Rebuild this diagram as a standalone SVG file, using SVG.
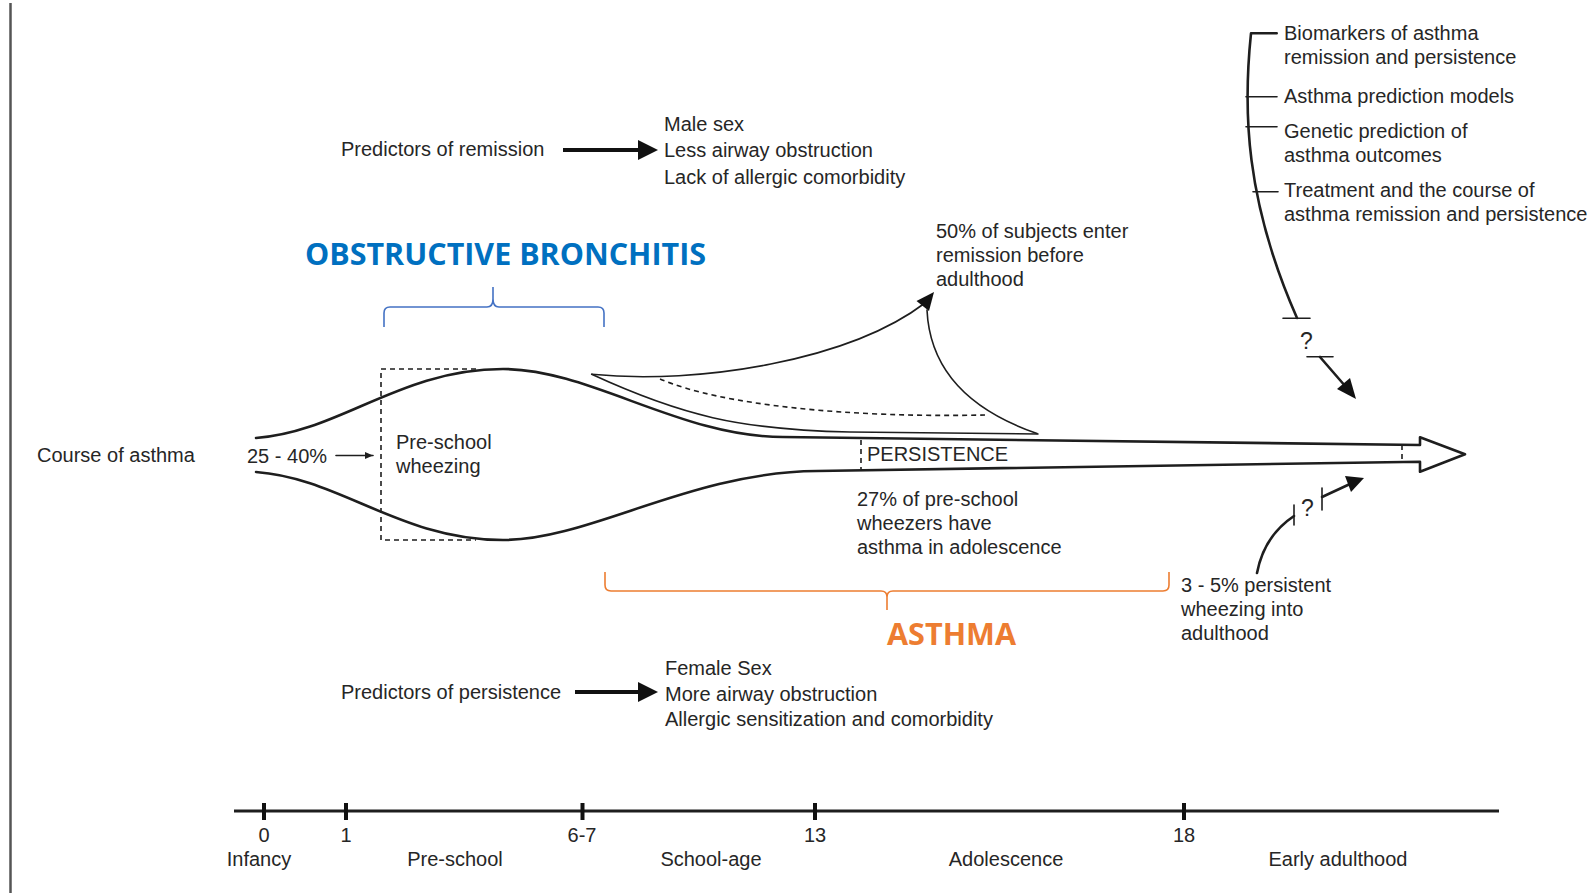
<svg xmlns="http://www.w3.org/2000/svg" width="1596" height="893" viewBox="0 0 1596 893">
<style>
  text { font-family: "Liberation Sans", Arial, sans-serif; font-size: 20px; fill: #262626; }
  .head { font-family: "Open Sans", "Liberation Sans", sans-serif; font-weight: bold; font-size: 30px; }
  .q { font-size: 23px; }
  .blue { fill: #0070C0; }
  .orange { fill: #ED7D31; }
  .thick { fill: none; stroke: #1e1e1e; stroke-width: 2.6; stroke-linecap: round; stroke-linejoin: round; }
  .thin { fill: none; stroke: #1e1e1e; stroke-width: 1.6; stroke-linecap: round; }
  .dash { fill: none; stroke: #1e1e1e; stroke-width: 1.6; stroke-dasharray: 5 4; }
  .bold { fill: none; stroke: #111; stroke-width: 4; }
  .head-fill { fill: #111; stroke: none; }
  .mid { text-anchor: middle; }
</style>
<defs>
  <marker id="smallArrow" markerWidth="10" markerHeight="10" refX="8" refY="5" orient="auto" markerUnits="userSpaceOnUse">
    <path d="M0,1.5 L8,5 L0,8.5 Z" fill="#1e1e1e"/>
  </marker>
</defs>

<rect x="0" y="0" width="1596" height="893" fill="#ffffff"/>

<!-- left frame line -->
<line x1="10.5" y1="3" x2="10.5" y2="893" stroke="#555" stroke-width="2.5"/>

<g id="connectors">
  <!-- predictors arrows -->
  <line class="bold" x1="563" y1="150" x2="641" y2="150"/>
  <polygon class="head-fill" points="638,140 658,150 638,160"/>
  <line class="bold" x1="575" y1="692" x2="641" y2="692"/>
  <polygon class="head-fill" points="638,682 658,692 638,702"/>
  <!-- 25-40% arrow -->
  <line class="thin" x1="336" y1="455.5" x2="373" y2="455.5" marker-end="url(#smallArrow)"/>
  <!-- remission arrows -->
  <path class="thin" d="M591.7,374.3 C700,385 850,360 925,303"/>
  <path class="thin" d="M1037,433.5 C975,412 930,374 927,310"/>
  <polygon class="head-fill" points="934,292 916.5,301 929,311"/>
  <path class="dash" d="M660,379 C720,405 850,418 985,415"/>
  <path class="thin" d="M591.7,374.3 C680,415 740,430 850,432 L1038,434"/>
  <!-- top-right bracket -->
  <path class="thick" d="M1276.7,33.3 L1251,33.3 C1243,110 1245,200 1297,318"/>
  <line class="thin" x1="1246" y1="96.7" x2="1277" y2="96.7"/>
  <line class="thin" x1="1246" y1="126.7" x2="1277" y2="126.7"/>
  <line class="thin" x1="1253" y1="191.7" x2="1278" y2="191.7"/>
  <line class="thin" x1="1283" y1="318.3" x2="1310" y2="318.3"/>
  <line class="thin" x1="1307" y1="356.7" x2="1333" y2="356.7"/>
  <line class="thick" x1="1320" y1="357" x2="1346" y2="387"/>
  <polygon class="head-fill" points="1356,399 1337,389 1350,378"/>
  <!-- 3-5% arrow -->
  <path class="thick" d="M1257,573 Q1264,536 1294,516"/>
  <line class="thin" x1="1294" y1="505" x2="1294" y2="525"/>
  <line class="thin" x1="1322" y1="488" x2="1322" y2="510"/>
  <line class="thick" x1="1322" y1="497" x2="1350" y2="484"/>
  <polygon class="head-fill" points="1364,478 1345,476 1351,492"/>
</g>

<g id="course">
  <!-- lens / course of asthma arrow -->
  <path class="thick" d="M256,438 C340,432 400,369 503,369 C590,369 680,437 783,437 L1420,445 L1420,437.3 L1465,454.3 L1420,471.7 L1420,461.7 L817,471 C690,472 590,540 503,540 C400,540 340,478 256,472" />
  <path class="dash" d="M476,369 L381,369 L381,540 L476,540"/>
  <line class="dash" x1="861" y1="440" x2="861" y2="469"/>
  <line class="dash" x1="1402" y1="445" x2="1402" y2="461.5" stroke-dasharray="3 3"/>
  <text x="37" y="462">Course of asthma</text>
  <text x="247" y="463">25 - 40%</text>
  <text x="396" y="449">Pre-school</text>
  <text x="396" y="473">wheezing</text>
  <text x="867" y="461">PERSISTENCE</text>
</g>

<g id="remission-predictors">
  <text x="341" y="156">Predictors of remission</text>
  <text x="664" y="131">Male sex</text>
  <text x="664" y="157">Less airway obstruction</text>
  <text x="664" y="184">Lack of allergic comorbidity</text>
</g>

<g id="persistence-predictors">
  <text x="341" y="699">Predictors of persistence</text>
  <text x="665" y="675">Female Sex</text>
  <text x="665" y="700.5">More airway obstruction</text>
  <text x="665" y="726">Allergic sensitization and comorbidity</text>
</g>

<g id="obstructive-bronchitis">
  <text class="head blue" x="305" y="265" textLength="401" lengthAdjust="spacingAndGlyphs">OBSTRUCTIVE BRONCHITIS</text>
  <path d="M384,327 L384,313 Q384,307 390,307 L487,307 Q493,307 493,299 L493,287 L493,299 Q493,307 499,307 L598,307 Q604,307 604,313 L604,327" fill="none" stroke="#4472C4" stroke-width="1.6"/>
</g>

<g id="asthma">
  <text class="head orange" x="887" y="645" textLength="129" lengthAdjust="spacingAndGlyphs">ASTHMA</text>
  <path d="M605,572 L605,585 Q605,591 611,591 L881,591 Q887,591 887,597 L887,610 L887,597 Q887,591 893,591 L1163,591 Q1169,591 1169,585 L1169,572" fill="none" stroke="#ED7D31" stroke-width="1.6"/>
</g>

<g id="remission-note">
  <text x="936" y="238">50% of subjects enter</text>
  <text x="936" y="262">remission before</text>
  <text x="936" y="286">adulthood</text>
</g>

<g id="adolescence-note">
  <text x="857" y="506">27% of pre-school</text>
  <text x="857" y="530">wheezers have</text>
  <text x="857" y="554">asthma in adolescence</text>
</g>

<g id="adult-note">
  <text x="1181" y="592">3 - 5% persistent</text>
  <text x="1181" y="616">wheezing into</text>
  <text x="1181" y="640">adulthood</text>
  <text class="q" x="1301" y="516">?</text>
</g>

<g id="research-list">
  <text x="1284" y="40">Biomarkers of asthma</text>
  <text x="1284" y="64">remission and persistence</text>
  <text x="1284" y="103">Asthma prediction models</text>
  <text x="1284" y="137.5">Genetic prediction of</text>
  <text x="1284" y="162">asthma outcomes</text>
  <text x="1284" y="196.5">Treatment and the course of</text>
  <text x="1284" y="221">asthma remission and persistence</text>
  <text class="q" x="1300" y="349">?</text>
</g>

<g id="timeline">
  <line x1="234" y1="811" x2="1499" y2="811" stroke="#1e1e1e" stroke-width="3"/>
  <g stroke="#111" stroke-width="4">
    <line x1="264" y1="803" x2="264" y2="820"/>
    <line x1="346" y1="803" x2="346" y2="820"/>
    <line x1="582.5" y1="803" x2="582.5" y2="820"/>
    <line x1="815" y1="803" x2="815" y2="820"/>
    <line x1="1184" y1="803" x2="1184" y2="820"/>
  </g>
  <text class="mid" x="264" y="842">0</text>
  <text class="mid" x="346" y="842">1</text>
  <text class="mid" x="582" y="842">6-7</text>
  <text class="mid" x="815" y="842">13</text>
  <text class="mid" x="1184" y="842">18</text>
  <text class="mid" x="259" y="866">Infancy</text>
  <text class="mid" x="455" y="866">Pre-school</text>
  <text class="mid" x="711" y="866">School-age</text>
  <text class="mid" x="1006" y="866">Adolescence</text>
  <text class="mid" x="1338" y="866">Early adulthood</text>
</g>
</svg>
